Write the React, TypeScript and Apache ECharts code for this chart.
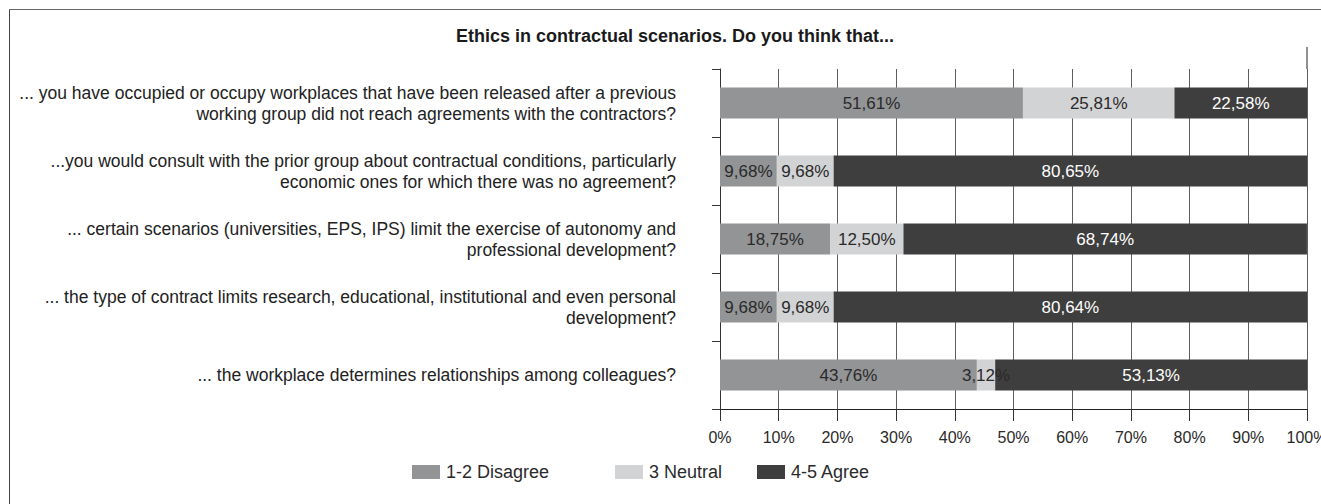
import React, { useEffect, useRef } from "react";
import * as echarts from "echarts";

const categories = [
  "... you have occupied or occupy workplaces that have been released after a previous\nworking group did not reach agreements with the contractors?",
  "...you would consult with the prior group about contractual conditions, particularly\neconomic ones for which there was no agreement?",
  "... certain scenarios (universities, EPS, IPS) limit the exercise of autonomy and\nprofessional development?",
  "... the type of contract limits research, educational, institutional and even personal\ndevelopment?",
  "... the workplace determines relationships among colleagues?",
];
const disagree = [51.61, 9.68, 18.75, 9.68, 43.76];
const neutral = [25.81, 9.68, 12.5, 9.68, 3.12];
const agree = [22.58, 80.65, 68.74, 80.64, 53.13];
const seriesNames = ["1-2 Disagree", "3 Neutral", "4-5 Agree"];
const title = "Ethics in contractual scenarios. Do you think that...";

const FONT = "Liberation Sans, Arial, sans-serif";
const fmt = (v: number) => v.toFixed(2).replace(".", ",") + "%";

export default function App() {
  const ref = useRef<HTMLDivElement>(null);
  useEffect(() => {
    if (!ref.current) return;
    const chart = echarts.init(ref.current, undefined, { renderer: "svg" });
    const colors = ["#939496", "#d2d3d5", "#3e3e3e"];
    const labelColors = ["#2a2a2a", "#2a2a2a", "#ffffff"];
    const datas = [disagree, neutral, agree];
    const legendLefts = [407, 610, 752];
    chart.setOption({
      animation: false,
      textStyle: { fontFamily: FONT },
      title: {
        text: title,
        left: 670,
        textAlign: "center",
        top: 22,
        textStyle: { fontFamily: FONT, fontSize: 18, fontWeight: "bold", color: "#1a1a1a" },
      },
      grid: {
        left: 720,
        width: 587,
        top: 69,
        height: 340,
        containLabel: false,
        outerBoundsMode: "none",
      },
      legend: seriesNames.map((n, i) => ({
        data: [n],
        left: legendLefts[i],
        top: 458,
        icon: "rect",
        itemWidth: 28,
        itemHeight: 14,
        itemGap: 6,
        selectedMode: false,
        textStyle: { fontFamily: FONT, fontSize: 18, color: "#2a2a2a", padding: [0, 0, 0, 1] },
      })),
      xAxis: {
        type: "value",
        min: 0,
        max: 100,
        interval: 10,
        axisLine: { show: true, lineStyle: { color: "#222", width: 1 } },
        axisTick: { show: true, length: 12, lineStyle: { color: "#333" } },
        axisLabel: {
          formatter: (v: number) => v + "%",
          fontFamily: FONT,
          fontSize: 16,
          color: "#2a2a2a",
          margin: 20,
        },
        splitLine: { show: true, lineStyle: { color: "#5e5e5e", width: 1 } },
      },
      yAxis: {
        type: "category",
        inverse: true,
        data: categories,
        axisLine: { show: true, lineStyle: { color: "#333", width: 1 } },
        axisTick: { show: true, length: 8, lineStyle: { color: "#333" } },
        axisLabel: {
          fontFamily: FONT,
          fontSize: 17.5,
          lineHeight: 21,
          color: "#222",
          margin: 44,
          align: "right",
        },
      },
      graphic: [
        { type: "line", shape: { x1: 9.5, y1: 9.5, x2: 1321, y2: 9.5 }, style: { stroke: "#666", lineWidth: 1 } },
        { type: "line", shape: { x1: 9.5, y1: 9.5, x2: 9.5, y2: 504 }, style: { stroke: "#444", lineWidth: 1 } },
        { type: "line", shape: { x1: 1307, y1: 47, x2: 1307, y2: 69 }, style: { stroke: "#222", lineWidth: 1 } },
      ],
      series: datas.map((d, i) => ({
        name: seriesNames[i],
        type: "bar",
        stack: "total",
        barWidth: 31,
        data: d,
        itemStyle: { color: colors[i] },
        label: {
          show: true,
          position: "inside",
          formatter: (p: any) => fmt(p.value),
          fontFamily: FONT,
          fontSize: 17,
          color: labelColors[i],
        },
      })),
    });
    return () => chart.dispose();
  }, []);
  return (
    <div
      ref={ref}
      style={{ position: "absolute", left: 0, top: 0, width: 1321, height: 504 }}
    />
  );
}
